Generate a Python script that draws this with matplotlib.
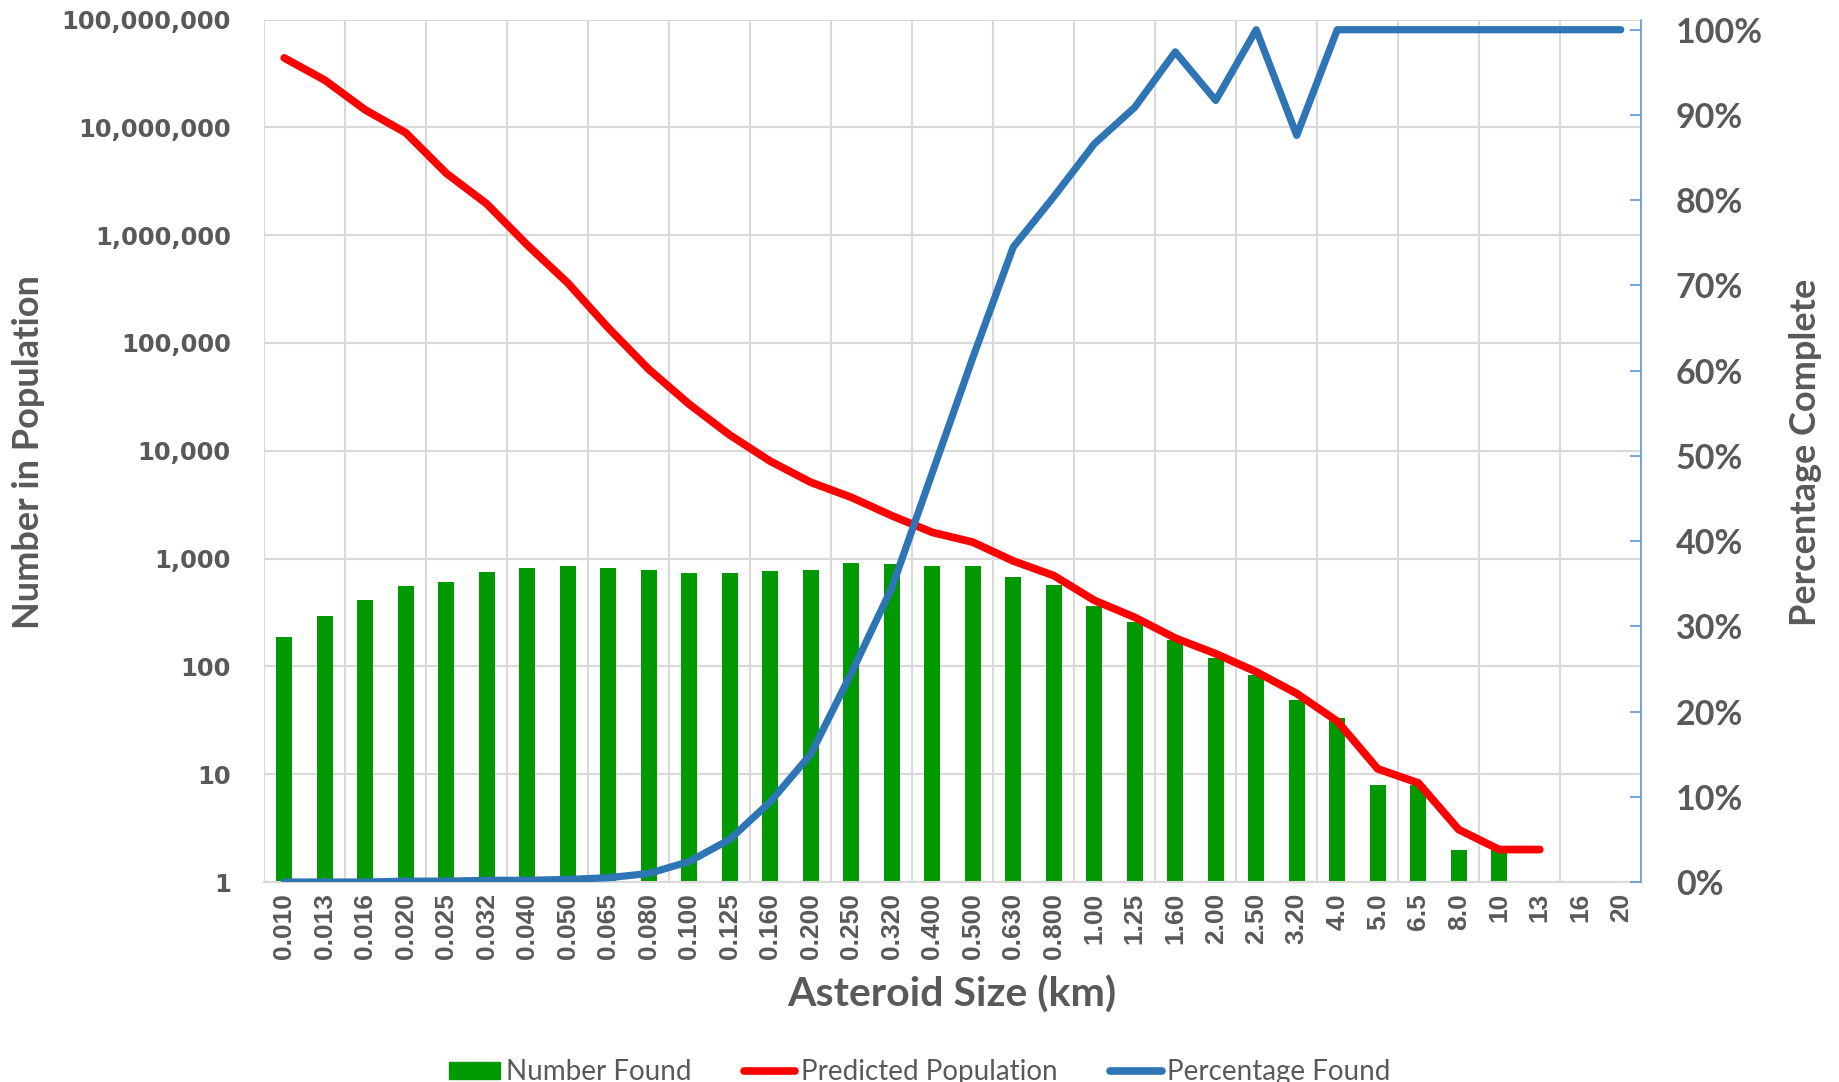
import numpy as np
import matplotlib
matplotlib.use("Agg")
import matplotlib.pyplot as plt
from matplotlib.ticker import FuncFormatter, FixedLocator, NullLocator
from matplotlib.lines import Line2D
from matplotlib.patches import Patch

# size bins (km)
sizes = ["0.010", "0.013", "0.016", "0.020", "0.025", "0.032", "0.040", "0.050",
         "0.065", "0.080", "0.100", "0.125", "0.160", "0.200", "0.250", "0.320",
         "0.400", "0.500", "0.630", "0.800", "1.00", "1.25", "1.60", "2.00",
         "2.50", "3.20", "4.0", "5.0", "6.5", "8.0", "10", "13", "16", "20"]

number_found = [187, 292, 412, 556, 600, 748, 809, 849, 826, 786, 727, 727,
                769, 786, 912, 887, 849, 849, 677, 570, 365, 256, 174, 119,
                84, 49, 33, 8, 8, 2, 2, np.nan, np.nan, np.nan]

predicted_pop = [4.4e7, 2.74e7, 1.45e7, 8.9e6, 3.75e6, 1.95e6, 8.1e5, 3.6e5,
                 1.38e5, 5.7e4, 2.7e4, 1.4e4, 8.0e3, 5.1e3, 3.7e3, 2.5e3,
                 1.75e3, 1.42e3, 950, 695, 410, 285, 183, 131, 89, 56, 31,
                 11.2, 8.3, 3.06, 2, 2, np.nan, np.nan]

pct_found = [0.000, 0.000, 0.000, 0.001, 0.001, 0.002, 0.002, 0.003, 0.005,
             0.010, 0.024, 0.050, 0.094, 0.150, 0.245, 0.345, 0.480, 0.615,
             0.745, 0.804, 0.866, 0.909, 0.974, 0.917, 1.000, 0.876, 1.000,
             1.000, 1.000, 1.000, 1.000, 1.000, 1.000, 1.000]

TXT = "#595959"
GRID = "#D9D9D9"
GREEN = "#009900"
RED = "#FF0000"
BLUE = "#2E75B6"
AXBLUE = "#5B9BD5"
TITLE_FONT = ["Lato", "DejaVu Sans"]
XTICK_FONT = ["Liberation Sans", "DejaVu Sans"]

W, H = 1839, 1082
fig = plt.figure(figsize=(W / 100, H / 100), dpi=100)
left, right, top, bottom = 264, 1641, 19.5, 882
ax = fig.add_axes([left / W, 1 - bottom / H, (right - left) / W, (bottom - top) / H])

x = np.arange(len(sizes))

ax.set_yscale("log")
ax.bar(x, number_found, width=0.4, color=GREEN, zorder=2)
ax.plot(x, predicted_pop, color=RED, lw=5.6, solid_capstyle="round",
        solid_joinstyle="round", zorder=3)
ax.set_xlim(-0.5, len(sizes) - 0.5)
ax.set_ylim(1, 1e8)

ax.yaxis.set_major_locator(FixedLocator([10 ** k for k in range(9)]))
ax.yaxis.set_minor_locator(NullLocator())
ax.yaxis.set_major_formatter(FuncFormatter(lambda v, p: f"{int(round(v)):,}"))
ax.tick_params(axis="y", length=0, pad=24, labelsize=17.5, labelcolor=TXT)
for t in ax.get_yticklabels():
    t.set_fontweight("bold")

ax.set_xticks(x)
ax.set_xticklabels(sizes, rotation=90, fontsize=19, fontweight="bold",
                   color=TXT, family=XTICK_FONT)
ax.set_xticks(np.arange(-0.5, len(sizes), 2), minor=True)
ax.tick_params(axis="x", which="both", length=0, pad=8)

ax.grid(which="major", axis="y", color=GRID, lw=1.5, zorder=0)
ax.grid(which="minor", axis="x", color=GRID, lw=1.5, zorder=0)
ax.set_axisbelow(True)
for s in ["top", "left", "right"]:
    ax.spines[s].set_visible(False)
ax.spines["bottom"].set_color(GRID)
ax.spines["bottom"].set_linewidth(1.5)

# percentage on secondary axis
ax2 = ax.twinx()
ax2.plot(x, pct_found, color=BLUE, lw=5.2, solid_capstyle="round",
         solid_joinstyle="round", zorder=4)
ax2.set_ylim(0, 1.012)
ax2.set_yticks(np.arange(0, 1.01, 0.1))
ax2.yaxis.set_major_formatter(FuncFormatter(lambda v, p: f"{v * 100:.0f}%"))
ax2.tick_params(axis="y", direction="in", length=8, width=1.2, color=AXBLUE,
                pad=25, labelsize=24.5, labelcolor=TXT)
for t in ax2.get_yticklabels():
    t.set_fontweight("bold")
    t.set_family(TITLE_FONT)
for s in ["top", "left", "bottom"]:
    ax2.spines[s].set_visible(False)
ax2.spines["right"].set_color(AXBLUE)
ax2.spines["right"].set_linewidth(1.2)

fig.text(952 / W, 1 - 995 / H, "Asteroid Size (km)", ha="center", va="center",
         fontsize=29.5, fontweight="bold", color=TXT, family=TITLE_FONT)
fig.text(29 / W, 1 - 452 / H, "Number in Population", ha="center", va="center",
         rotation=90, fontsize=26, fontweight="bold", color=TXT, family=TITLE_FONT)
fig.text(1806 / W, 1 - 452 / H, "Percentage Complete", ha="center", va="center",
         rotation=90, fontsize=26, fontweight="bold", color=TXT, family=TITLE_FONT)

handles = [Patch(facecolor=GREEN, edgecolor=GREEN),
           Line2D([], [], color=RED, lw=5.5, solid_capstyle="round"),
           Line2D([], [], color=BLUE, lw=5.5, solid_capstyle="round")]
labels = ["Number Found", "Predicted Population", "Percentage Found"]
leg = fig.legend(handles, labels, loc="center", bbox_to_anchor=(0.5, 1 - 1072 / H),
                 ncol=3, frameon=False, handlelength=1.85, handleheight=0.55,
                 handletextpad=0.2, columnspacing=1.9,
                 prop={"family": TITLE_FONT, "size": 20})
for t in leg.get_texts():
    t.set_color(TXT)

fig.savefig("out.png", dpi=100)
